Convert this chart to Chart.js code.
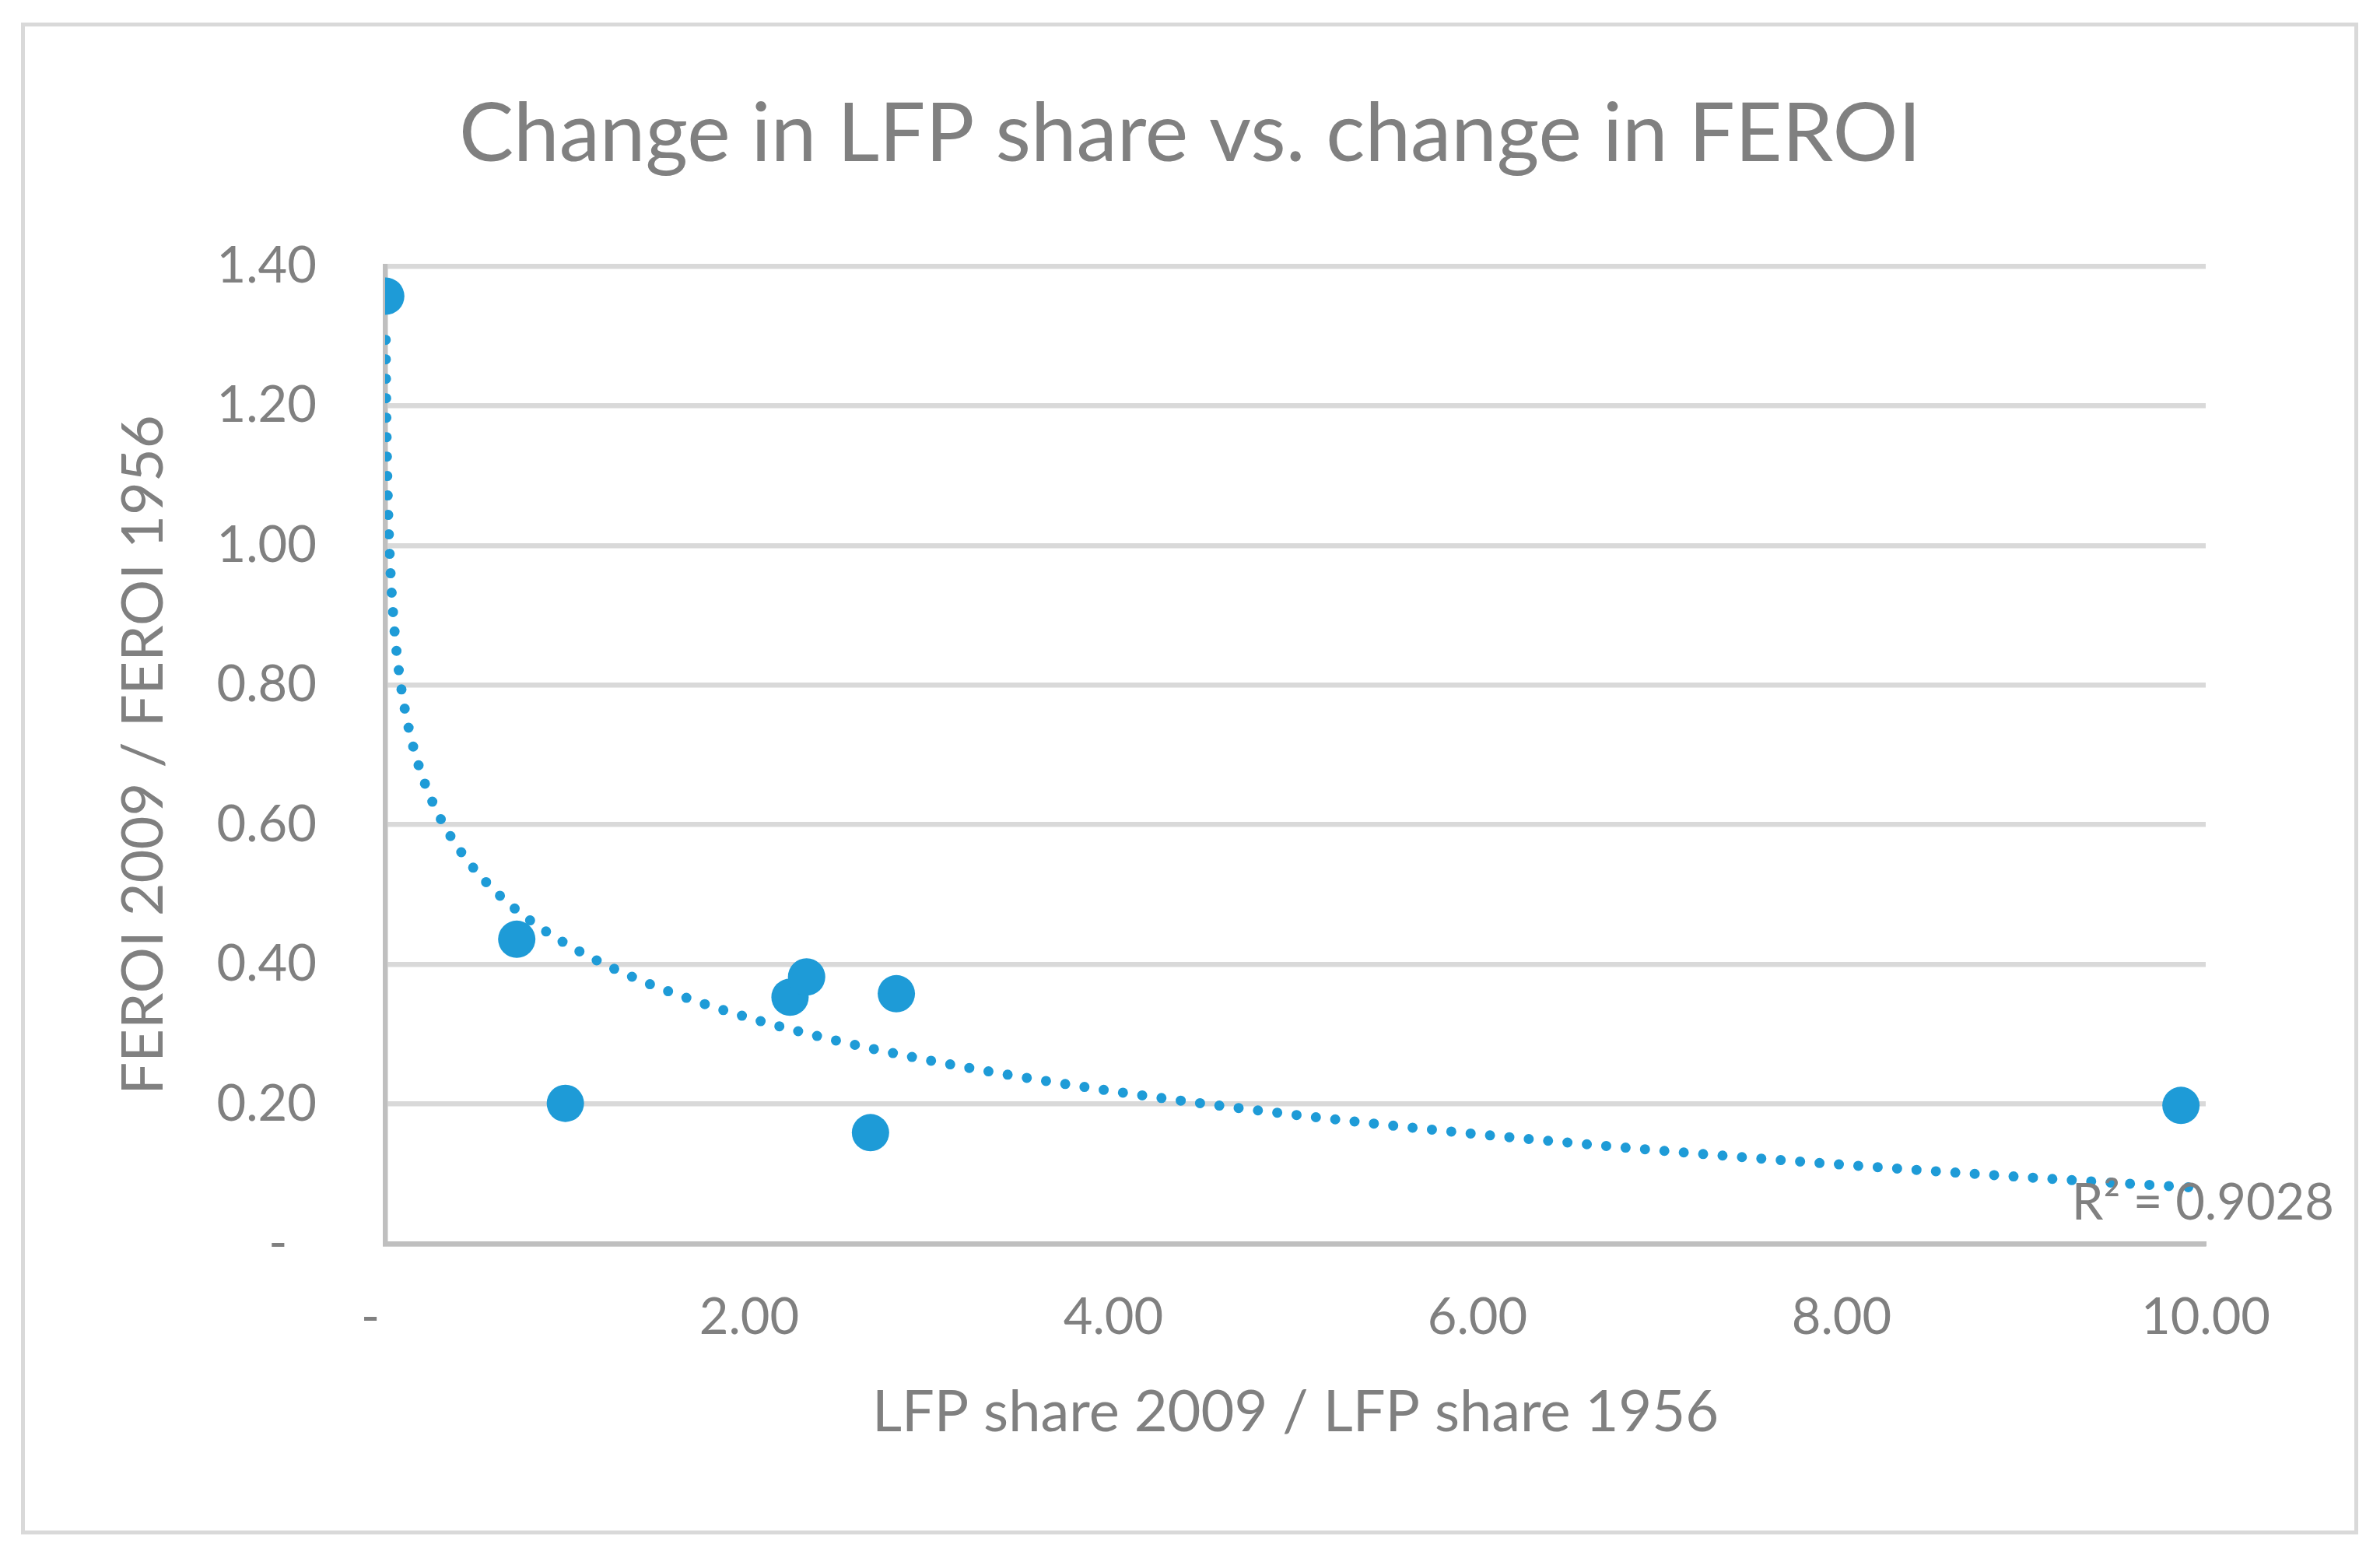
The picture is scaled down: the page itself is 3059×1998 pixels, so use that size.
<!DOCTYPE html>
<html>
<head>
<meta charset="utf-8">
<script src="https://cdn.jsdelivr.net/npm/chart.js@4/dist/chart.umd.min.js"></script>
<style>
  html, body { margin: 0; padding: 0; background: #fff; }
  #wrap { width: 3059px; height: 1998px; }
</style>
</head>
<body>
<div id="wrap"><canvas id="feroiChart" width="3059" height="1998"></canvas></div>
<script>
// values
const lfpRatio = [0.0033, 0.723, 0.990, 2.224, 2.315, 2.666, 2.808, 9.864];
const feroiRatio = [1.357, 0.436, 0.201, 0.353, 0.382, 0.159, 0.358, 0.198];
const xTicks = [0, 2, 4, 6, 8, 10];
const yTicks = [0, 0.2, 0.4, 0.6, 0.8, 1.0, 1.2, 1.4];
const r2Label = 'R\u00b2 = 0.9028';

const FONT = 'Lato, "Open Sans", sans-serif';
const GREY_TEXT = '#808080';
const BLUE = '#1e9bd7';

// logarithmic trendline (least squares on ln x), like the Excel one
const lnx = lfpRatio.map(v => Math.log(v));
const mx = lnx.reduce((s, v) => s + v, 0) / lnx.length;
const my = feroiRatio.reduce((s, v) => s + v, 0) / feroiRatio.length;
let sxx = 0, sxy = 0;
lnx.forEach((v, i) => { sxx += (v - mx) * (v - mx); sxy += (v - mx) * (feroiRatio[i] - my); });
const slope = sxy / sxx;
const intercept = my - slope * mx;

const trendPts = [];
const xStart = Math.min(...lfpRatio);
for (let i = 0; i <= 200; i++) { // dense near zero where the curve is steep
  const x = xStart * Math.pow(1 / xStart, i / 200);
  trendPts.push({ x: x, y: intercept + slope * Math.log(x) });
}
for (let i = 1; i <= 200; i++) {
  const x = 1 + 9 * i / 200;
  trendPts.push({ x: x, y: intercept + slope * Math.log(x) });
}

const fmt = v => Math.abs(v) < 1e-9 ? '-\u2007' : v.toFixed(2);

const frameAndR2 = {
  id: 'frameAndR2',
  beforeDraw(chart) {
    const c = chart.ctx;
    c.save();
    c.strokeStyle = '#d9d9d9';
    c.lineWidth = 5;
    c.strokeRect(29.5, 31.5, 2999, 1937.5);
    c.restore();
  },
  afterDatasetsDraw(chart) {
    const c = chart.ctx;
    const xs = chart.scales.x, ys = chart.scales.y;
    const endY = ys.getPixelForValue(intercept + slope * Math.log(xs.max));
    c.save();
    c.fillStyle = GREY_TEXT;
    c.font = '65px ' + FONT;
    c.textAlign = 'right';
    c.textBaseline = 'alphabetic';
    c.fillText(r2Label, chart.chartArea.right + 165, endY + 40);
    c.restore();
  }
};

const ctx = document.getElementById('feroiChart').getContext('2d');

const feroiChart = new Chart(ctx, {
  type: 'scatter',
  data: {
    datasets: [{
      type: 'line',
      label: 'Log. trend',
      data: trendPts,
      borderColor: BLUE,
      borderWidth: 13,
      borderDash: [0, 25],
      borderCapStyle: 'round',
      pointRadius: 0,
      fill: false,
      tension: 0,
      order: 0
    }, {
      label: 'FEROI vs LFP',
      data: lfpRatio.map((x, i) => ({ x: x, y: feroiRatio[i] })),
      backgroundColor: BLUE,
      pointRadius: 24,
      pointBorderWidth: 0,
      order: 1
    }]
  },
  options: {
    responsive: false,
    devicePixelRatio: 1,
    animation: false,
    layout: { padding: { left: 0, right: 0, top: 0, bottom: 0 } },
    plugins: {
      legend: { display: false },
      tooltip: { enabled: false },
      title: {
        display: true,
        text: 'Change in LFP share vs. change in FEROI',
        color: GREY_TEXT,
        font: { family: FONT, size: 105, weight: 'normal' },
        padding: { top: 110, bottom: 106 }
      }
    },
    scales: {
      x: {
        type: 'linear',
        min: 0,
        max: 10,
        afterBuildTicks: s => { s.ticks = xTicks.map(v => ({ value: v })); },
        afterFit: s => { s.height = 400; },
        grid: { display: false, drawTicks: false },
        border: { display: true, color: '#bfbfbf', width: 6.5 },
        ticks: {
          color: GREY_TEXT,
          font: { family: FONT, size: 65 },
          padding: 56,
          maxRotation: 0,
          autoSkip: false,
          callback: fmt
        },
        title: {
          display: true,
          text: 'LFP share 2009 / LFP share 1956',
          color: GREY_TEXT,
          font: { family: FONT, size: 74 },
          padding: { top: 0, bottom: 138 }
        }
      },
      y: {
        type: 'linear',
        min: 0,
        max: 1.4,
        afterBuildTicks: s => { s.ticks = yTicks.map(v => ({ value: v })); },
        afterFit: s => { s.width = 495; },
        grid: {
          drawTicks: false,
          lineWidth: 6.5,
          color: c => (c.tick && Math.abs(c.tick.value) < 1e-9) ? '#bfbfbf' : '#d9d9d9'
        },
        border: { display: true, color: '#bfbfbf', width: 6.5 },
        ticks: {
          color: GREY_TEXT,
          font: { family: FONT, size: 65 },
          padding: 88,
          autoSkip: false,
          callback: fmt
        },
        title: {
          display: true,
          text: 'FEROI 2009 / FEROI 1956',
          color: GREY_TEXT,
          font: { family: FONT, size: 74 },
          padding: { top: 141, bottom: 0 }
        }
      },
      // empty right-hand margin so the title centres on the whole canvas
      yRight: {
        type: 'linear',
        position: 'right',
        display: true,
        afterFit: s => { s.width = 224; },
        grid: { display: false, drawTicks: false },
        border: { display: false },
        ticks: { display: false }
      }
    }
  },
  plugins: [frameAndR2]
});
</script>
</body>
</html>
